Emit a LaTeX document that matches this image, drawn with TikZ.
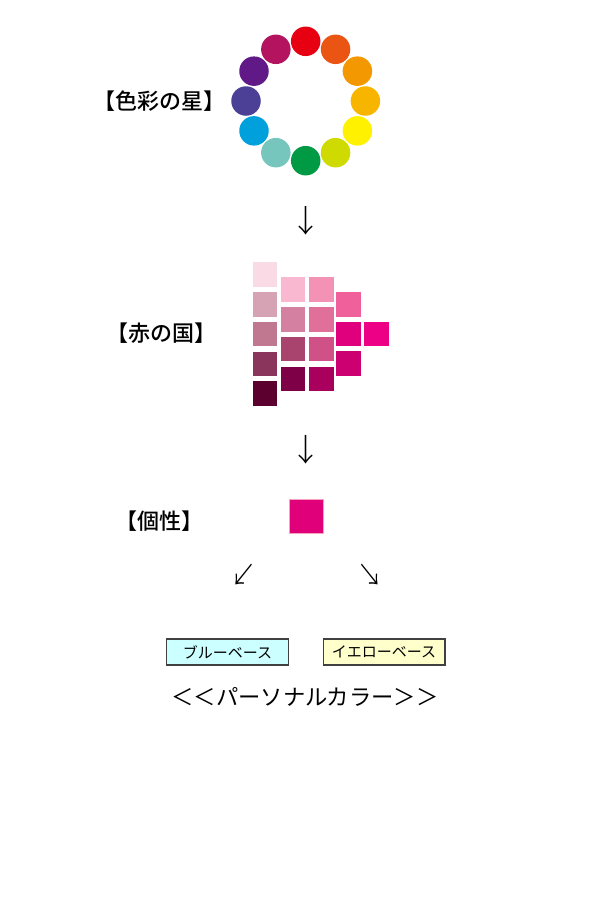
\documentclass[tikz,border=0pt]{standalone}
\usepackage{fontspec}
\setmainfont{Noto Sans CJK JP}[BoldFont={* Medium}]
\newfontfamily\arrowfont{Noto Sans CJK JP Light}
\usetikzlibrary{positioning}

% wheel colours
\definecolor{wRed}{HTML}{E60012}
\definecolor{wRedOrange}{HTML}{EA5514}
\definecolor{wOrange}{HTML}{F39800}
\definecolor{wYellowOrange}{HTML}{F8B500}
\definecolor{wYellow}{HTML}{FFF100}
\definecolor{wYellowGreen}{HTML}{CFDB00}
\definecolor{wGreen}{HTML}{009944}
\definecolor{wTeal}{HTML}{76C6BE}
\definecolor{wBlue}{HTML}{00A0DC}
\definecolor{wBlueViolet}{HTML}{4B4096}
\definecolor{wViolet}{HTML}{601986}
\definecolor{wRedViolet}{HTML}{B3135F}
% red country colours
\definecolor{rA1}{HTML}{FADBE5}
\definecolor{rA2}{HTML}{D6A3B4}
\definecolor{rA3}{HTML}{C07890}
\definecolor{rA4}{HTML}{8A355C}
\definecolor{rA5}{HTML}{5C0030}
\definecolor{rB1}{HTML}{F9B8CF}
\definecolor{rB2}{HTML}{D480A0}
\definecolor{rB3}{HTML}{A8446E}
\definecolor{rB4}{HTML}{7E0046}
\definecolor{rC1}{HTML}{F492B5}
\definecolor{rC2}{HTML}{E0709A}
\definecolor{rC3}{HTML}{D05088}
\definecolor{rC4}{HTML}{A8005C}
\definecolor{rD1}{HTML}{F0609A}
\definecolor{rD2}{HTML}{E0007E}
\definecolor{rD3}{HTML}{CC0070}
\definecolor{rE1}{HTML}{EE0086}
\definecolor{kosei}{HTML}{E0007A}
\definecolor{boxline}{HTML}{404040}
\definecolor{blueBase}{HTML}{CCFFFF}
\definecolor{yellowBase}{HTML}{FFFFCC}

\tikzset{
  dot/.style={circle, inner sep=0pt, minimum size=29.5pt},
  tile/.style={inner sep=0pt, minimum width=24.7pt, minimum height=24.6pt},
  title/.style={font=\fontsize{22}{22}\selectfont\bfseries},
  arrowtext/.style={font=\arrowfont\fontsize{31}{31}\selectfont},
  slanttext/.style={font=\arrowfont\fontsize{31}{31}\selectfont, xscale=0.8},
  basebox/.style={draw=boxline, line width=1.3pt, minimum width=121.7pt, minimum height=26pt, inner sep=0pt, font=\fontsize{15}{15}\selectfont}
}

\begin{document}
\begin{tikzpicture}[x=1pt, y=1pt]
\useasboundingbox (0,0) rectangle (600,-900);

% Colour wheel
\begin{scope}[shift={(305.7,-101)}]
\node[dot, fill=wRed] (red) at (90:59.7) {};
\node[dot, fill=wRedOrange] (redorange) at (60:59.7) {};
\node[dot, fill=wOrange] (orange) at (30:59.7) {};
\node[dot, fill=wYellowOrange] (yelloworange) at (0:59.7) {};
\node[dot, fill=wYellow] (yellow) at (-30:59.7) {};
\node[dot, fill=wYellowGreen] (yellowgreen) at (-60:59.7) {};
\node[dot, fill=wGreen] (green) at (-90:59.7) {};
\node[dot, fill=wTeal] (teal) at (-120:59.7) {};
\node[dot, fill=wBlue] (blue) at (-150:59.7) {};
\node[dot, fill=wBlueViolet] (blueviolet) at (180:59.7) {};
\node[dot, fill=wViolet] (violet) at (150:59.7) {};
\node[dot, fill=wRedViolet] (redviolet) at (120:59.7) {};
\end{scope}
\node[title] (star) at (159,-101) {【色彩の星】};

\node[arrowtext] (down1) at (306,-221) {↓};

% Red country tiles
\node[tile, fill=rA1] (a1) at (265,-274.7) {};
\node[tile, fill=rA2, below=4.7pt of a1] (a2) {};
\node[tile, fill=rA3, below=4.7pt of a2] (a3) {};
\node[tile, fill=rA4, below=4.7pt of a3] (a4) {};
\node[tile, fill=rA5, below=4.7pt of a4] (a5) {};
\node[tile, fill=rB1] (b1) at (293,-289.7) {};
\node[tile, fill=rB2, below=4.7pt of b1] (b2) {};
\node[tile, fill=rB3, below=4.7pt of b2] (b3) {};
\node[tile, fill=rB4, below=4.7pt of b3] (b4) {};
\node[tile, fill=rC1, right=3.1pt of b1] (c1) {};
\node[tile, fill=rC2, right=3.1pt of b2] (c2) {};
\node[tile, fill=rC3, right=3.1pt of b3] (c3) {};
\node[tile, fill=rC4, right=3.1pt of b4] (c4) {};
\node[tile, fill=rD1] (d1) at (348.3,-304.3) {};
\node[tile, fill=rD2, below=4.7pt of d1] (d2) {};
\node[tile, fill=rD3, below=4.7pt of d2] (d3) {};
\node[tile, fill=rE1, right=3.1pt of d2] (e1) {};
\node[title] (country) at (161,-333) {【赤の国】};

\node[arrowtext] (down2) at (306,-449.5) {↓};

% Individuality
\node[inner sep=0pt, minimum size=34pt, fill=kosei, draw=rD1!60, line width=0.6pt] (square) at (306.7,-516.7) {};
\node[title] (kosei) at (159,-521.5) {【個性】};

\node[slanttext] (left) at (244,-575) {↙};
\node[slanttext] (right) at (370,-575) {↘};

% Personal colour bases
\node[basebox, fill=blueBase] (bluebase) at (227.5,-652) {ブルーベース};
\node[basebox, fill=yellowBase] (yellowbase) at (384,-652) {イエローベース};
\node[font=\fontsize{22.3}{22.3}\selectfont] (personal) at (305,-697) {＜＜パーソナルカラー＞＞};

\end{tikzpicture}
\end{document}
